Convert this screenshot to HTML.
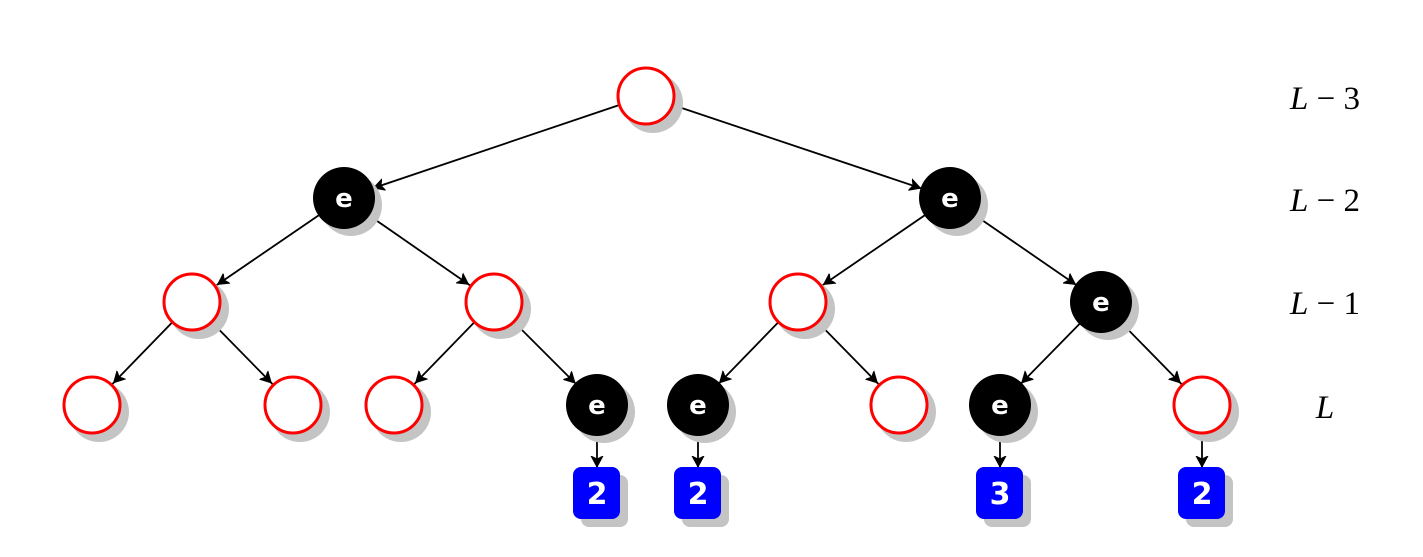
<!DOCTYPE html>
<html><head><meta charset="utf-8"><style>
html,body{margin:0;padding:0;background:#fff}
svg{display:block}
.lbl{font-family:"Liberation Serif",serif;font-size:33px}
.e{font-family:"DejaVu Sans","Liberation Sans",sans-serif;font-weight:bold;font-size:26px;fill:#fff}
.n{font-family:"DejaVu Sans","Liberation Sans",sans-serif;font-weight:bold;font-size:30px;fill:#fff}
</style></head><body>
<svg width="1423" height="557" viewBox="0 0 1423 557">
<defs>
<marker id="a" markerUnits="userSpaceOnUse" markerWidth="80" markerHeight="20" viewBox="0 -10 80 20" refX="42" refY="0" orient="auto">
<path d="M12,0 L-1,-7 L2.5,0 L-1,7 Z" fill="#000"/></marker>
<marker id="b" markerUnits="userSpaceOnUse" markerWidth="80" markerHeight="20" viewBox="0 -10 80 20" refX="37" refY="0" orient="auto">
<path d="M12,0 L-1,-7 L2.5,0 L-1,7 Z" fill="#000"/></marker>
</defs>
<g stroke="#000" stroke-width="1.8">
<line x1="646" y1="96" x2="344" y2="198" marker-end="url(#a)"/>
<line x1="646" y1="96" x2="950" y2="198" marker-end="url(#a)"/>
<line x1="344" y1="198" x2="192" y2="302" marker-end="url(#a)"/>
<line x1="344" y1="198" x2="494" y2="302" marker-end="url(#a)"/>
<line x1="950" y1="198" x2="798" y2="302" marker-end="url(#a)"/>
<line x1="950" y1="198" x2="1101" y2="302" marker-end="url(#a)"/>
<line x1="192" y1="302" x2="92" y2="405" marker-end="url(#a)"/>
<line x1="192" y1="302" x2="293" y2="405" marker-end="url(#a)"/>
<line x1="494" y1="302" x2="394" y2="405" marker-end="url(#a)"/>
<line x1="494" y1="302" x2="597" y2="405" marker-end="url(#a)"/>
<line x1="798" y1="302" x2="698" y2="405" marker-end="url(#a)"/>
<line x1="798" y1="302" x2="899" y2="405" marker-end="url(#a)"/>
<line x1="1101" y1="302" x2="1000" y2="405" marker-end="url(#a)"/>
<line x1="1101" y1="302" x2="1202" y2="405" marker-end="url(#a)"/>
<line x1="597" y1="405" x2="597" y2="493" marker-end="url(#b)"/>
<line x1="698" y1="405" x2="698" y2="493" marker-end="url(#b)"/>
<line x1="1000" y1="405" x2="1000" y2="493" marker-end="url(#b)"/>
<line x1="1202" y1="405" x2="1202" y2="493" marker-end="url(#b)"/>
</g>
<g fill="#c4c4c4">
<circle cx="653" cy="103" r="30"/>
<circle cx="351" cy="205" r="31"/><circle cx="957" cy="205" r="31"/>
<circle cx="199" cy="309" r="30"/><circle cx="501" cy="309" r="30"/><circle cx="805" cy="309" r="30"/><circle cx="1108" cy="309" r="31"/>
<circle cx="99" cy="412" r="30"/><circle cx="300" cy="412" r="30"/><circle cx="401" cy="412" r="30"/><circle cx="604" cy="412" r="31"/>
<circle cx="705" cy="412" r="31"/><circle cx="906" cy="412" r="30"/><circle cx="1007" cy="412" r="31"/><circle cx="1209" cy="412" r="30"/>
<rect x="581" y="475" width="47" height="52" rx="8"/><rect x="682" y="475" width="47" height="52" rx="8"/>
<rect x="984" y="475" width="47" height="52" rx="8"/><rect x="1186" y="475" width="47" height="52" rx="8"/>
</g>
<g fill="#fff" stroke="#f00" stroke-width="3">
<circle cx="646" cy="96" r="28"/>
<circle cx="192" cy="302" r="28"/><circle cx="494" cy="302" r="28"/><circle cx="798" cy="302" r="28"/>
<circle cx="92" cy="405" r="28"/><circle cx="293" cy="405" r="28"/><circle cx="394" cy="405" r="28"/><circle cx="899" cy="405" r="28"/><circle cx="1202" cy="405" r="28"/>
</g>
<g fill="#000">
<circle cx="344" cy="198" r="31"/><circle cx="950" cy="198" r="31"/><circle cx="1101" cy="302" r="31"/>
<circle cx="597" cy="405" r="31"/><circle cx="698" cy="405" r="31"/><circle cx="1000" cy="405" r="31"/>
</g>
<g fill="#0000ff">
<rect x="573" y="467" width="47" height="52" rx="8"/><rect x="674" y="467" width="47" height="52" rx="8"/>
<rect x="976" y="467" width="47" height="52" rx="8"/><rect x="1178" y="467" width="47" height="52" rx="8"/>
</g>
<g class="e" text-anchor="middle">
<text x="344" y="207">e</text><text x="950" y="207">e</text><text x="1101" y="311">e</text>
<text x="597" y="414">e</text><text x="698" y="414">e</text><text x="1000" y="414">e</text>
</g>
<g class="n" text-anchor="middle">
<text x="597" y="504">2</text><text x="698" y="504">2</text><text x="1000" y="504">3</text><text x="1202" y="504">2</text>
</g>
<g class="lbl" text-anchor="middle">
<text x="1325" y="109"><tspan font-style="italic">L</tspan> − 3</text>
<text x="1325" y="211"><tspan font-style="italic">L</tspan> − 2</text>
<text x="1325" y="314"><tspan font-style="italic">L</tspan> − 1</text>
<text x="1325" y="418" font-style="italic">L</text>
</g>
</svg>
</body></html>
